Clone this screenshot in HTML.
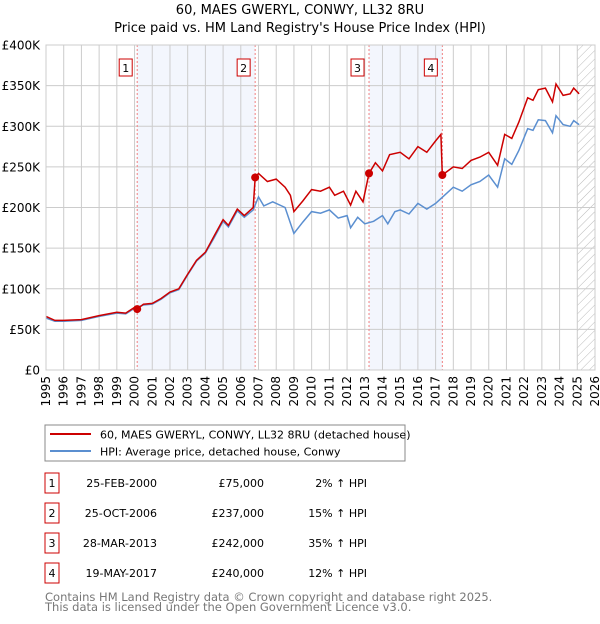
<!DOCTYPE html>
<html><head><meta charset="utf-8"><style>
body{margin:0;background:#fff;font-family:"DejaVu Sans","Liberation Sans",sans-serif;}
svg text{font-family:"DejaVu Sans","Liberation Sans",sans-serif;}
</style></head><body>
<svg id="c" width="600" height="620" xmlns="http://www.w3.org/2000/svg">
<defs><pattern id="hatch" width="6" height="6" patternUnits="userSpaceOnUse" patternTransform="rotate(45)"><line x1="0" y1="0" x2="0" y2="6" stroke="#bbb" stroke-width="1"/></pattern></defs>
<text x="300" y="14" text-anchor="middle" font-size="13">60, MAES GWERYL, CONWY, LL32 8RU</text>
<text x="300" y="32" text-anchor="middle" font-size="13">Price paid vs. HM Land Registry's House Price Index (HPI)</text>
<g id="plot"></g>
<rect x="45" y="425" width="360" height="36" fill="#fff" stroke="#888"/>
<line x1="50" y1="434" x2="91" y2="434" stroke="#cc0000" stroke-width="2"/>
<text x="100" y="438.5" font-size="11">60, MAES GWERYL, CONWY, LL32 8RU (detached house)</text>
<line x1="50" y1="451" x2="91" y2="451" stroke="#5b8fd0" stroke-width="2"/>
<text x="100" y="455.5" font-size="11">HPI: Average price, detached house, Conwy</text>
<g id="table"></g>
<text x="45" y="601" font-size="11.5" fill="#777">Contains HM Land Registry data © Crown copyright and database right 2025.</text>
<text x="45" y="611" font-size="11.5" fill="#777">This data is licensed under the Open Government Licence v3.0.</text>
</svg>
<script>
const years=[1995,1996,1997,1998,1999,2000,2001,2002,2003,2004,2005,2006,2007,2008,2009,2010,2011,2012,2013,2014,2015,2016,2017,2018,2019,2020,2021,2022,2023,2024,2025,2026];
const yTicks=[0,50,100,150,200,250,300,350,400];
const yTickLabels=["£0","£50K","£100K","£150K","£200K","£250K","£300K","£350K","£400K"];
const redT=[1995.0,1995.5,1996.0,1997.0,1998.0,1999.0,1999.5,2000.0,2000.15,2000.5,2001.0,2001.5,2002.0,2002.5,2003.0,2003.5,2004.0,2004.5,2005.0,2005.3,2005.8,2006.2,2006.7,2006.81,2007.0,2007.5,2008.0,2008.5,2008.8,2009.0,2009.5,2010.0,2010.5,2011.0,2011.3,2011.8,2012.2,2012.5,2012.9,2013.24,2013.6,2014.0,2014.4,2015.0,2015.5,2016.0,2016.5,2017.0,2017.3,2017.38,2018.0,2018.5,2019.0,2019.5,2020.0,2020.5,2020.9,2021.3,2021.7,2022.2,2022.5,2022.8,2023.2,2023.6,2023.8,2024.2,2024.6,2024.8,2025.1];
const redV=[66,61,61,62,67,71,70,77,75,81,82,88,96,100,118,135,145,165,185,178,198,190,200,237,242,232,235,225,215,195,208,222,220,225,215,220,203,220,207,242,255,245,265,268,260,275,268,282,290,240,250,248,258,262,268,252,290,285,305,335,332,345,347,330,352,338,340,347,340];
const blueT=[1995.0,1995.5,1996.0,1997.0,1998.0,1999.0,1999.5,2000.0,2000.5,2001.0,2001.5,2002.0,2002.5,2003.0,2003.5,2004.0,2004.5,2005.0,2005.3,2005.8,2006.2,2006.7,2007.0,2007.3,2007.8,2008.5,2009.0,2009.5,2010.0,2010.5,2011.0,2011.5,2012.0,2012.2,2012.6,2013.0,2013.5,2014.0,2014.3,2014.7,2015.0,2015.5,2016.0,2016.5,2017.0,2017.4,2018.0,2018.5,2019.0,2019.5,2020.0,2020.5,2020.9,2021.3,2021.7,2022.2,2022.5,2022.8,2023.2,2023.6,2023.8,2024.2,2024.6,2024.8,2025.1];
const blueV=[64,60,60,61,66,70,69,76,80,81,87,95,99,117,134,144,163,183,176,196,188,197,213,202,207,200,168,182,195,193,197,187,190,175,188,180,183,190,180,195,197,192,205,198,205,213,225,220,228,232,240,225,260,253,270,297,295,308,307,292,313,302,300,307,302];
const saleT=[2000.15,2006.81,2013.24,2017.38];
const saleV=[75,237,242,240];
const saleLabels=["1","2","3","4"];
const saleDates=["25-FEB-2000","25-OCT-2006","28-MAR-2013","19-MAY-2017"];
const salePrices=["£75,000","£237,000","£242,000","£240,000"];
const saleHpi=["2% ↑ HPI","15% ↑ HPI","35% ↑ HPI","12% ↑ HPI"];

const X0=46,X1=595,Y0=370,Y1=45;
const xs=t=>X0+(t-1995)/(2026-1995)*(X1-X0);
const ys=v=>Y0-v/400*(Y0-Y1);
const NS="http://www.w3.org/2000/svg";
const plot=document.getElementById('plot');
function mk(tag,attrs,parent){const e=document.createElementNS(NS,tag);for(const k in attrs)e.setAttribute(k,attrs[k]);(parent||plot).appendChild(e);return e;}
[[0,1],[2,3]].forEach(([a,b],i)=>{
 const r=mk('rect',{x:xs(saleT[a]),y:Y1,width:xs(saleT[b])-xs(saleT[a]),height:Y0-Y1,fill:'#f3f6fd'});
 
 
});
const h=mk('rect',{x:xs(2025),y:Y1,width:X1-xs(2025),height:Y0-Y1,fill:'url(#hatch)'});


years.forEach(y=>{
 const l=mk('line',{x1:xs(y),x2:xs(y),y1:Y1,y2:Y0,stroke:'#ccc','stroke-width':1});
 
 
 const t=mk('text',{x:0,y:0,'font-size':12,'text-anchor':'end',transform:`translate(${xs(y)+4},${Y0+6}) rotate(-90)`});
 t.textContent=y;
 
 
});
yTicks.forEach((v,i)=>{
 const l=mk('line',{x1:X0,x2:X1,y1:ys(v),y2:ys(v),stroke:'#ccc','stroke-width':1});
 
 
 const t=mk('text',{x:X0-6,y:ys(v)+4.5,'font-size':12,'text-anchor':'end'});
 t.textContent=yTickLabels[i];
 
 
});
saleT.forEach((t,i)=>{
 const l=mk('line',{x1:xs(t),x2:xs(t),y1:Y1,y2:Y0,stroke:'#f08080','stroke-width':1,'stroke-dasharray':'2,2'});
 
 
 const b=mk('rect',{x:xs(t)-18,y:59,width:13,height:17,fill:'#fff',stroke:'#cc0000'});
 
 
 const tx=mk('text',{x:xs(t)-11.5,y:72,'font-size':11,'text-anchor':'middle'});
 tx.textContent=saleLabels[i];
 
 
});
const pts=(T,V)=>T.map((t,i)=>xs(t).toFixed(1)+','+ys(V[i]).toFixed(1)).join(' ');
const bl=mk('polyline',{points:pts(blueT,blueV),fill:'none',stroke:'#5b8fd0','stroke-width':1.5});


const rl=mk('polyline',{points:pts(redT,redV),fill:'none',stroke:'#cc0000','stroke-width':1.5});


saleT.forEach((t,i)=>{
 const c=mk('circle',{cx:xs(t),cy:ys(saleV[i]),r:4,fill:'#cc0000'});
 
 
});
const ax=mk('rect',{x:X0,y:Y1,width:X1-X0,height:Y0-Y1,fill:'none',stroke:'#ccc'});


const tb=document.getElementById('table');
saleLabels.forEach((s,i)=>{
 const cy=483+i*30;
 const r=mk('rect',{x:45,y:cy-10,width:14,height:20,fill:'#fff',stroke:'#cc0000'},tb);
 
 
 const cells=[[52,'middle',s,'num'],[157,'end',saleDates[i],'date'],[264,'end',salePrices[i],'price'],[367,'end',saleHpi[i],'hpi']];
 cells.forEach(c=>{
  const t=mk('text',{x:c[0],y:cy+4,'font-size':11,'text-anchor':c[1]},tb);
  t.textContent=c[2];
  
  
 });
});
</script>
</body></html>
